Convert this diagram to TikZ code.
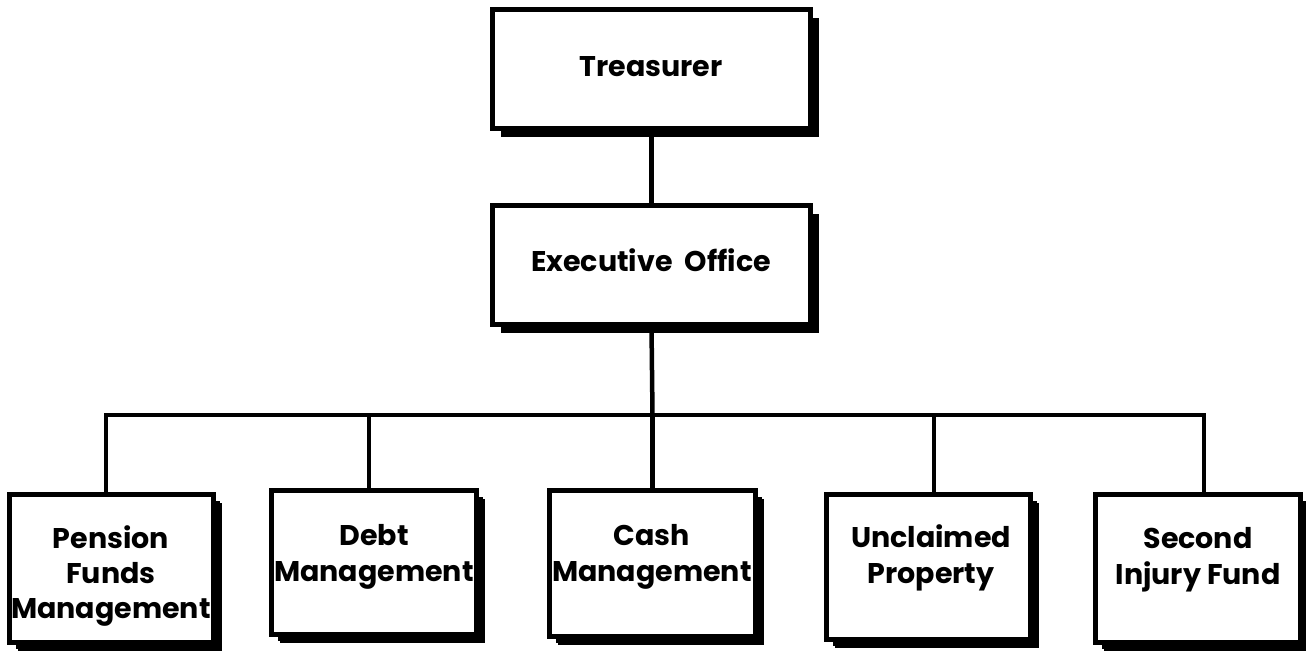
\documentclass[tikz,border=0pt]{standalone}
\usepackage{fontspec}
\setmainfont{Poppins}
\usetikzlibrary{shadows}
\begin{document}
\begin{tikzpicture}[x=1pt,y=-1pt,
  box/.style={draw=black, line width=5pt, fill=white, inner sep=0pt,
    drop shadow={shadow xshift=8pt, shadow yshift=-8pt, fill=black, opacity=1}},
  sbox/.style={box, drop shadow={shadow xshift=6pt, shadow yshift=-6pt, fill=black, opacity=1}},
  lbl/.style={font=\fontsize{28.5}{36}\selectfont\bfseries, align=center, inner sep=0pt, anchor=base},
  conn/.style={line width=4.5pt, line join=miter}]
\useasboundingbox (0,0) rectangle (1306,651);
\begin{scope}
\clip (0,0) rectangle (1306,651);
% boxes
\node[box, minimum width=318pt, minimum height=119pt] (trea) at (651.5,69) {};
\node[box, minimum width=318pt, minimum height=119pt] (exec) at (651.5,265) {};
\node[sbox, minimum width=204pt, minimum height=148pt] (pens) at (111.5,568.5) {};
\node[sbox, minimum width=205pt, minimum height=144pt] (debt) at (374,562.5) {};
\node[sbox, minimum width=206pt, minimum height=146pt] (cash) at (652.5,563.5) {};
\node[sbox, minimum width=204pt, minimum height=145pt] (uncl) at (928.5,567) {};
\node[sbox, minimum width=205pt, minimum height=148pt] (secd) at (1198,568.5) {};
\end{scope}
% labels (anchored at the baseline of the last line)
\node[lbl] (tl) at (651,76) {Treasurer};
\node[lbl] (el) at (651,271) {Executive\ \ Office};
\node[lbl, font=\fontsize{28.5}{35}\selectfont\bfseries] (pl) at (111,618) {Pension\\Funds\\Management};
\node[lbl] (dl) at (374,581) {Debt\\Management};
\node[lbl] (cl) at (652,581) {Cash\\Management};
\node[lbl] (ul) at (931,583) {Unclaimed\\Property};
\node[lbl] (sl) at (1198,584) {Second\\Injury Fund};
% connectors
\coordinate (b1) at (106,415);
\coordinate (b2) at (369,415);
\coordinate (b3) at (652.5,415);
\coordinate (b4) at (934,415);
\coordinate (b5) at (1204,415);
\draw[conn] (trea.south) -- (exec.north);
\draw[conn] (exec.south) -- (b3);
\draw[conn] (b1 |- pens.north) -- (b1) -- (b5) -- (b5 |- secd.north);
\draw[conn] (b2) -- (b2 |- debt.north);
\draw[conn] (b3) -- (b3 |- cash.north);
\draw[conn] (b4) -- (b4 |- uncl.north);
\end{tikzpicture}
\end{document}
